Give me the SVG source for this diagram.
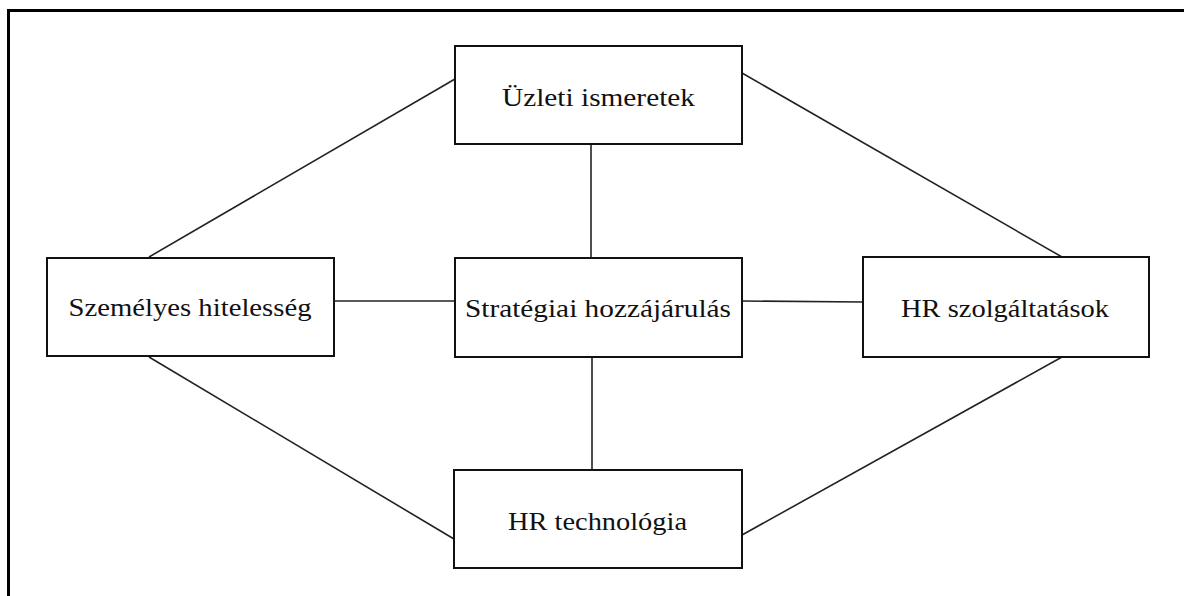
<svg xmlns="http://www.w3.org/2000/svg" width="1184" height="596" viewBox="0 0 1184 596">
<style>
.box{fill:#fff;stroke:#111;stroke-width:2}
.lbl{font-family:"Liberation Serif","DejaVu Serif",serif;font-size:26px;fill:#111;text-anchor:middle}
.con line{stroke:#222;stroke-width:1.6}
</style>
<rect width="1184" height="596" fill="#fff"/>
<path d="M8.5,596 V10.5 H1184" fill="none" stroke="#000" stroke-width="3"/>
<g id="connectors" class="con">
<line x1="149" y1="257" x2="455" y2="79"/>
<line x1="742" y1="73" x2="1062" y2="257"/>
<line x1="149" y1="357" x2="454" y2="539"/>
<line x1="1062" y1="357" x2="742" y2="535"/>
<line x1="591" y1="144" x2="591" y2="258"/>
<line x1="592" y1="357" x2="592" y2="470"/>
<line x1="334" y1="301" x2="455" y2="301"/>
<line x1="742" y1="301" x2="863" y2="302"/>
</g>
<g id="uzleti">
<rect class="box" x="455" y="46" width="287" height="98"/>
<text class="lbl" x="598.5" y="106" textLength="193" lengthAdjust="spacingAndGlyphs">Üzleti ismeretek</text>
</g>
<g id="szemelyes">
<rect class="box" x="47" y="258" width="287" height="98"/>
<text class="lbl" x="190" y="316" textLength="243" lengthAdjust="spacingAndGlyphs">Személyes hitelesség</text>
</g>
<g id="strategiai">
<rect class="box" x="455" y="258" width="287" height="99"/>
<text class="lbl" x="598" y="317" textLength="266" lengthAdjust="spacingAndGlyphs">Stratégiai hozzájárulás</text>
</g>
<g id="szolgaltatasok">
<rect class="box" x="863" y="257" width="286" height="100"/>
<text class="lbl" x="1005" y="317" textLength="208" lengthAdjust="spacingAndGlyphs">HR szolgáltatások</text>
</g>
<g id="technologia">
<rect class="box" x="454" y="470" width="288" height="98"/>
<text class="lbl" x="597.5" y="530" textLength="179" lengthAdjust="spacingAndGlyphs">HR technológia</text>
</g>
</svg>
